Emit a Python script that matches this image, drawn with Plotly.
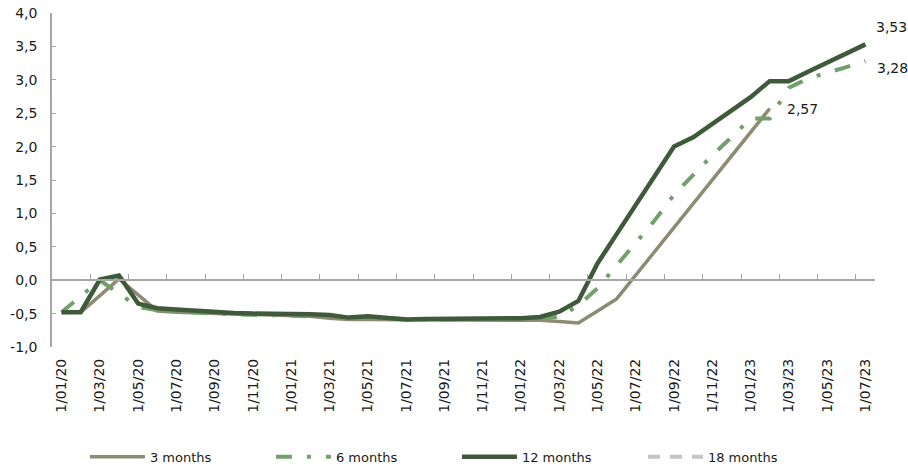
import plotly.graph_objects as go

# ---- data ----
years = [2020, 2021, 2022, 2023]
month_labels = [f"1/{m:02d}/{y % 100:02d}" for y in years for m in range(1, 13)][:43]

m3 = [-0.48, -0.48, -0.23, 0.02, -0.22, -0.46, -0.48, -0.49, -0.50, -0.51,
      -0.52, -0.53, -0.53, -0.54, -0.57, -0.59, -0.59, -0.59, -0.60, -0.60,
      -0.60, -0.60, -0.60, -0.60, -0.60, -0.60, -0.62, -0.64, -0.46, -0.28,
      None, None, None, None, None, None, None, 2.57, None, None,
      None, None, None]
m6 = [-0.48, -0.24, 0.00, -0.20, -0.40, -0.45, -0.47, -0.49, -0.50, -0.51,
      -0.52, -0.53, -0.54, -0.54, -0.54, -0.57, -0.56, -0.57, -0.59, -0.59,
      -0.59, -0.59, -0.59, -0.59, -0.59, -0.57, -0.55, -0.38, -0.12, 0.22,
      0.55, 0.90, 1.28, 1.58, 1.87, 2.14, 2.42, 2.42, 2.88, 3.02,
      3.10, 3.19, 3.28]
m12 = [-0.48, -0.48, 0.01, 0.07, -0.35, -0.42, -0.44, -0.46, -0.48, -0.49,
       -0.50, -0.50, -0.51, -0.51, -0.52, -0.56, -0.54, -0.56, -0.59, -0.58,
       -0.58, -0.57, -0.57, -0.57, -0.57, -0.55, -0.47, -0.31, 0.25, 0.69,
       1.13, 1.57, 2.00, 2.14, 2.34, 2.54, 2.74, 2.98, 2.98, 3.12,
       3.26, 3.40, 3.53]
m18 = [None] * 43

series_names = ["3 months", "6 months", "12 months", "18 months"]
y_tick_vals = [-1.0, -0.5, 0.0, 0.5, 1.0, 1.5, 2.0, 2.5, 3.0, 3.5, 4.0]
y_tick_text = ["-1,0", "-0,5", "0,0", "0,5", "1,0", "1,5", "2,0", "2,5", "3,0", "3,5", "4,0"]

# ---- styles ----
C3, C6, C12, C18 = "#8D8B74", "#72A06C", "#3F5A3B", "#C4C4C4"
AXC = "#A6A6A6"
FONT = "DejaVu Sans"

n = len(month_labels)
xs = list(range(n))

fig = go.Figure()
fig.add_trace(go.Scatter(x=xs, y=m3, name=series_names[0], mode="lines", connectgaps=True,
                         line=dict(color=C3, width=3.5)))
fig.add_trace(go.Scatter(x=xs, y=m6, name=series_names[1], mode="lines", connectgaps=True,
                         line=dict(color=C6, width=4, dash="16px,15px,4px,15px")))
fig.add_trace(go.Scatter(x=xs, y=m12, name=series_names[2], mode="lines", connectgaps=True,
                         line=dict(color=C12, width=4.5)))
fig.add_trace(go.Scatter(x=xs, y=m18, name=series_names[3], mode="lines", xaxis="x2",
                         line=dict(color=C18, width=4, dash="12px,10px")))

def fmt(v):
    return f"{v:.2f}".replace(".", ",")

# value labels at last points
last12 = max(i for i, v in enumerate(m12) if v is not None)
last6 = max(i for i, v in enumerate(m6) if v is not None)
last3 = max(i for i, v in enumerate(m3) if v is not None)
for idx, arr, dx, dy in [(last12, m12, 9, 17), (last6, m6, 10, -7), (last3, m3, 15, 0)]:
    fig.add_annotation(x=idx, y=arr[idx], text=fmt(arr[idx]), showarrow=False,
                       xanchor="left", yanchor="middle", xshift=dx, yshift=dy,
                       font=dict(family=FONT, size=14, color="#1a1a1a"))

xr = [-0.5, n - 0.5]
even_idx = [i for i in xs if i % 2 == 0]
fig.update_layout(
    width=908, height=467,
    margin=dict(l=52, r=33, t=12.5, b=120, autoexpand=False),
    paper_bgcolor="white", plot_bgcolor="white",
    font=dict(family=FONT, size=14, color="#1a1a1a"),
    showlegend=True,
    legend=dict(orientation="h", x=0.04, xanchor="left", y=-0.329, yanchor="middle",
                entrywidth=116, entrywidthmode="pixels", itemwidth=55,
                font=dict(family=FONT, size=13, color="#1a1a1a"),
                traceorder="normal"),
    xaxis=dict(range=xr, tickmode="array", tickvals=even_idx,
               ticktext=[month_labels[i] for i in even_idx], tickangle=-90,
               showline=False, showgrid=False, zeroline=False, ticks="",
               ticklabelstandoff=8,
               tickfont=dict(family=FONT, size=14, color="#1a1a1a")),
    xaxis2=dict(range=xr, overlaying="x", anchor="free", position=(0 - (-1)) / 5,
                showline=True, linecolor=AXC, linewidth=1.5,
                tickmode="array", tickvals=[i + 0.5 for i in xs if i % 2 == 1 and i < n - 1],
                ticks="inside", ticklen=5, tickcolor=AXC, tickwidth=1,
                showticklabels=False, showgrid=False, zeroline=False),
    yaxis=dict(range=[-1, 4], tickmode="array", tickvals=y_tick_vals, ticktext=y_tick_text,
               showline=True, linecolor=AXC, linewidth=1.5,
               ticks="inside", ticklen=4, tickcolor=AXC,
               showgrid=False, zeroline=False, ticklabelstandoff=10,
               tickfont=dict(family=FONT, size=14, color="#1a1a1a")),
)

fig.write_html("out.html")
